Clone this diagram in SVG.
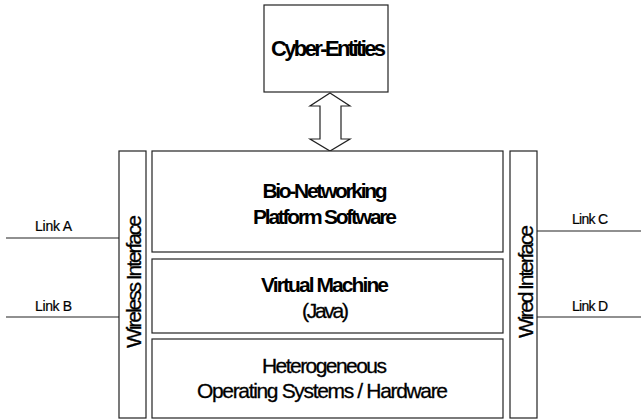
<svg xmlns="http://www.w3.org/2000/svg" width="641" height="420" viewBox="0 0 641 420">
<style>
.box{fill:#fff;stroke:#222;stroke-width:1.2}
.ln{stroke:#222;stroke-width:1.2;fill:none}
text{font-family:"Liberation Sans",Arial,sans-serif;fill:#000}
.big{font-size:21px;text-anchor:middle}
.b{font-weight:bold}
.r{stroke:#000;stroke-width:0.3}
.lk{font-size:14px;stroke:#000;stroke-width:0.2}
</style>
<rect width="641" height="420" fill="#fff"/>
<g id="connectors">
<polygon class="box" points="330,93 350,106 341,106 341,139 350,139 330,151 310,139 320,139 320,106 310,106"/>
<line class="ln" x1="6" y1="238" x2="119" y2="238"/>
<line class="ln" x1="6" y1="317" x2="119" y2="317"/>
<line class="ln" x1="537" y1="231" x2="641" y2="231"/>
<line class="ln" x1="537" y1="317" x2="641" y2="317"/>
<text class="lk" x="35" y="231" textLength="37" lengthAdjust="spacing">Link A</text>
<text class="lk" x="35" y="311" textLength="37" lengthAdjust="spacing">Link B</text>
<text class="lk" x="572" y="224" textLength="36" lengthAdjust="spacing">Link C</text>
<text class="lk" x="572" y="311" textLength="36" lengthAdjust="spacing">Link D</text>
</g>
<g id="cyber-entities">
<rect class="box" x="264" y="5" width="124" height="87"/>
<text class="big b" x="328.5" y="56" textLength="115" lengthAdjust="spacing" style="font-size:22px">Cyber-Entities</text>
</g>
<g id="bio-networking">
<rect class="box" x="152" y="151" width="351" height="101"/>
<text class="big b" x="325" y="198" textLength="125" lengthAdjust="spacing">Bio-Networking</text>
<text class="big b" x="325" y="224" textLength="144" lengthAdjust="spacing">Platform Software</text>
</g>
<g id="virtual-machine">
<rect class="box" x="152" y="259" width="351" height="74"/>
<text class="big b" x="325" y="292" textLength="128" lengthAdjust="spacing">Virtual Machine</text>
<text class="big r" x="325.5" y="318" textLength="47" lengthAdjust="spacing">(Java)</text>
</g>
<g id="heterogeneous">
<rect class="box" x="152" y="339" width="351" height="79"/>
<text class="big r" x="324.5" y="373" textLength="125" lengthAdjust="spacing">Heterogeneous</text>
<text class="big r" x="322.5" y="398" textLength="251" lengthAdjust="spacing">Operating Systems / Hardware</text>
</g>
<g id="wireless-interface">
<rect class="box" x="119" y="151" width="27" height="267"/>
<text class="big r" transform="translate(141,281.5) rotate(-90)" x="0" y="0" textLength="133" lengthAdjust="spacing">Wireless Interface</text>
</g>
<g id="wired-interface">
<rect class="box" x="510" y="151" width="27" height="267"/>
<text class="big r" transform="translate(533,281.5) rotate(-90)" x="0" y="0" textLength="113" lengthAdjust="spacing">Wired Interface</text>
</g>
</svg>
